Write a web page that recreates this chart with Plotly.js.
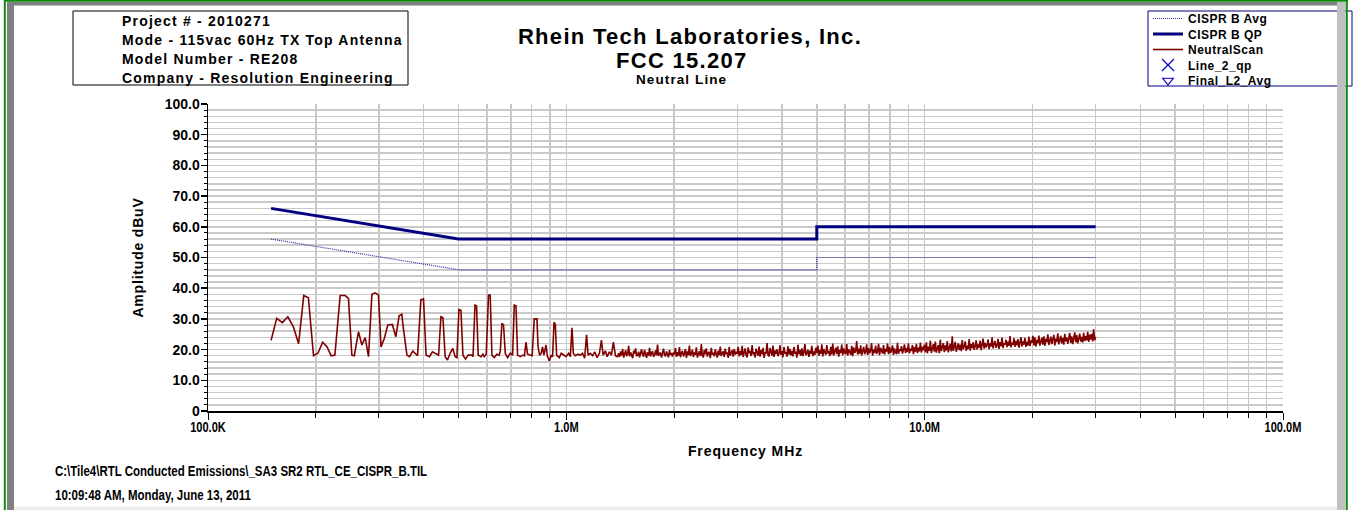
<!DOCTYPE html>
<html><head><meta charset="utf-8">
<script src="https://cdn.plot.ly/plotly-3.0.1.min.js"></script>
<style>html,body{margin:0;padding:0;background:#fff;overflow:hidden}#chart{width:1353px;height:510px}</style>
</head><body><div id="chart"></div>
<script>
// ---------- DATA ----------
const freqTickVals = [0.1, 1, 10, 100];
const freqTickText = ['100.0K', '1.0M', '10.0M', '100.0M'];
const ampTickVals = [0, 10, 20, 30, 40, 50, 60, 70, 80, 90, 100];
const ampTickText = ['0', '10.0', '20.0', '30.0', '40.0', '50.0', '60.0', '70.0', '80.0', '90.0', '100.0'];

// CISPR B limits (MHz, dBuV)
const limitFreq = [0.15, 0.5, 5, 5, 30];
const qpLimit = [66, 56, 56, 60, 60];
const avgLimit = [56, 46, 46, 50, 50];

// Neutral scan, resolved part (MHz, dBuV)
const scanLowFreq = [
0.150,0.1555,0.1613,0.167,0.173,0.179,0.185,0.1906,0.197,0.2026,
0.209,0.215,0.2206,0.226,0.2338,0.2414,0.2466,0.252,0.256,0.263,
0.2688,0.2746,0.2805,0.2867,0.2928,0.299,0.304,0.3106,0.3175,0.327,
0.3343,0.3415,0.3475,0.350,0.359,0.365,0.373,0.3786,0.3844,0.3927,
0.3994,0.406,0.415,0.423,0.4335,0.440,0.4467,0.4525,0.459,0.466,
0.474,0.482,0.4897,0.495,0.5015,0.508,0.5146,0.5233,0.5324,0.5452,
0.549,0.556,0.5616,0.5676,0.5778,0.585,0.590,0.5976,0.6066,0.613,
0.620,0.629,0.640,0.6486,0.654,0.661,0.668,0.6755,0.6855,0.6976,
0.708,0.7157,0.7236,0.731,0.7439,0.7568,0.764,0.7715,0.7796,0.793,
0.803,0.8136,0.828,0.834,0.842,0.851,0.858,0.866,0.8775,0.885,
0.8965,0.908,0.9156,0.9239,0.9317,0.9395,0.9559,0.968,0.9828,0.998,
1.0149,1.026,1.037,1.046,1.0595,1.078,1.094,1.110,1.125,1.139,
1.150,1.167,1.184,1.200,1.218,1.237,1.253,1.267,1.285,1.300,
1.319,1.336,1.353,1.371,1.389];
const scanLowAmp = [
23.0,30.2,28.8,30.7,27.5,21.9,37.6,36.9,18.0,18.8,
22.4,20.9,18.0,18.2,37.6,37.6,36.7,18.2,18.0,25.8,
21.5,23.9,17.7,38.0,38.5,37.8,20.9,23.7,28.0,28.2,
24.2,31.0,31.5,28.0,18.2,17.7,19.5,18.8,18.0,36.2,
36.5,18.2,17.7,19.3,18.5,18.2,30.7,30.4,17.7,16.6,
18.8,20.4,17.7,17.4,33.1,32.8,18.2,16.9,18.2,18.2,
17.7,34.5,34.2,18.2,17.7,18.5,17.7,18.5,37.8,37.8,
18.2,17.4,18.5,18.2,19.3,28.6,28.0,18.8,17.4,18.8,
18.2,34.5,34.3,18.2,17.7,18.2,18.0,22.4,18.5,18.2,
18.0,30.0,30.0,20.9,18.2,18.8,20.9,18.2,21.5,18.0,
16.3,18.2,17.7,28.9,28.2,18.2,17.4,18.8,18.2,17.7,
18.8,17.7,27.1,18.8,18.0,18.5,18.2,18.8,17.2,24.8,
18.2,18.8,18.0,19.3,17.4,18.8,23.1,18.2,19.6,17.7,
19.3,18.2,22.4,18.0,17.7];

// Neutral scan, dense sweep part: 1.40 MHz to 30 MHz, log-spaced sweep points
const bandStartMHz = 1.40;
const bandStopMHz = 30.0;
const scanBandAmp = [
18.8,17.6,19.4,18.1,20.2,17.4,18.9,19.8,17.9,18.5,21.2,17.8,19.1,18.3,17.2,19.6,18.7,20.4,17.9,18.2,
19.3,17.5,18.8,20.1,18.4,17.7,19.9,18.6,17.3,19.2,18.0,20.6,17.8,18.9,19.5,17.6,18.3,19.7,18.1,21.6,
17.9,18.7,19.0,17.4,18.5,20.3,18.2,17.8,19.4,18.6,17.5,19.8,18.3,18.9,17.7,19.1,
18.4,20.5,17.6,19.2,18.0,20.8,17.5,18.9,19.6,17.8,18.6,20.2,17.3,19.4,18.2,21.3,17.9,18.7,20.0,17.6,
19.1,18.3,20.7,17.4,18.8,19.5,17.9,21.8,18.1,17.5,19.9,18.5,20.4,17.7,18.9,19.3,17.2,20.6,18.4,19.0,
17.8,20.1,18.6,17.4,19.7,18.2,21.0,17.9,18.8,19.4,17.6,20.3,18.5,19.1,17.3,20.9,18.0,18.7,19.8,17.7,
20.2,18.4,19.3,
18.6,20.9,17.8,19.5,18.3,21.2,17.6,19.0,20.4,18.1,17.5,20.7,18.8,19.6,17.9,21.5,18.4,19.2,17.4,20.3,
18.9,18.0,21.0,17.7,19.8,18.5,20.6,17.3,19.1,18.7,22.1,18.2,17.8,20.5,19.3,18.0,21.3,17.6,19.7,18.6,
20.1,17.9,18.8,21.4,18.3,19.5,17.5,20.8,18.9,19.0,17.7,21.1,18.4,20.2,18.1,19.6,17.8,20.9,18.7,19.3,
17.4,21.6,18.5,19.9,18.0,20.4,17.9,19.1,21.8,18.2,18.8,20.0,17.6,19.7,18.6,21.2,17.9,19.4,18.3,20.6,
18.9,21.3,18.0,19.8,18.6,21.7,17.8,20.2,19.1,18.3,21.5,18.7,19.6,17.9,20.9,18.4,22.0,18.1,19.3,20.6,
18.5,21.1,17.7,19.9,18.8,21.6,18.2,20.4,19.0,18.6,21.8,18.0,20.1,19.4,18.3,21.2,17.9,20.7,18.9,19.5,
22.8,18.4,20.3,18.7,21.4,18.1,19.8,20.9,18.5,19.2,21.7,18.3,20.5,18.8,19.6,22.1,18.0,20.0,18.9,21.3,
18.6,19.4,21.9,18.2,20.6,19.1,18.7,21.5,18.4,20.2,19.3,22.0,18.5,20.8,18.9,19.7,21.4,18.3,20.4,19.0,
18.8,22.2,18.6,20.1,19.5,21.1,18.7,19.9,21.7,18.9,20.5,19.2,22.0,18.8,20.3,19.6,21.5,18.5,20.8,19.3,
21.9,18.9,20.6,19.4,22.3,19.0,20.9,19.8,21.6,
19.1,22.4,18.8,21.0,19.6,22.9,18.9,20.7,21.8,19.3,22.6,19.0,20.4,21.5,18.8,23.3,19.5,20.9,22.1,19.2,
21.4,19.7,22.8,19.1,20.6,21.9,19.4,24.3,19.6,21.2,22.5,19.3,20.8,22.0,19.8,21.6,19.5,23.1,20.1,21.0,
22.7,19.6,21.3,20.2,23.4,19.7,21.8,20.5,22.4,19.9,21.1,23.0,20.0,21.7,20.6,22.9,19.8,21.4,23.6,20.3,
22.2,20.7,21.5,23.3,20.1,22.0,21.0,24.0,20.4,21.9,22.8,20.6,21.3,23.5,20.2,22.4,21.1,23.9,20.5,22.1,
21.6,23.2,20.8,22.6,21.2,24.4,20.7,22.3,21.5,23.7,20.9,22.8,21.4,23.4,20.6,22.1,24.1,21.0,22.7,21.6,
23.8,20.9,22.5,21.3,24.2,21.1,23.0,22.2,24.5,
21.4,24.0,21.0,23.2,22.1,24.6,21.3,22.8,23.9,21.6,24.3,21.2,23.5,22.4,25.0,21.5,23.1,24.2,21.8,22.9,
24.8,21.4,23.6,22.5,25.3,21.7,23.3,24.5,22.0,23.8,21.6,25.1,22.7,24.0,21.9,23.5,25.4,22.2,24.3,21.8,
23.9,25.6,22.4,24.7,22.0,23.6,25.2,22.6,24.1,22.3,25.5,22.8,24.4,23.0,25.8,22.5,24.9,23.3,25.1,22.7,
26.6,23.0,24.2];

const infoLines = ['Project # - 2010271', 'Mode - 115vac 60Hz TX Top Antenna', 'Model Number - RE208', 'Company - Resolution Engineering'];
const titleLines = ['Rhein Tech Laboratories, Inc.', 'FCC 15.207'];
const subTitle = 'Neutral Line';
const footerLines = ['C:\\Tile4\\RTL Conducted Emissions\\_SA3 SR2 RTL_CE_CISPR_B.TIL', '10:09:48 AM, Monday, June 13, 2011'];
const seriesNames = ['CISPR B Avg', 'CISPR B QP', 'NeutralScan', 'Line_2_qp', 'Final_L2_Avg'];

// ---------- BUILD ----------
const n = scanBandAmp.length;
const bandFreq = scanBandAmp.map((_, i) => bandStartMHz * Math.pow(bandStopMHz / bandStartMHz, i / (n - 1)));
const scanFreq = scanLowFreq.concat(bandFreq);
const scanAmp = scanLowAmp.concat(scanBandAmp);

const minorFreq = [];
[0.1, 1, 10].forEach(d => { for (let k = 2; k <= 9; k++) minorFreq.push(+(d * k).toPrecision(3)); });
const minorAmp = [];
for (let v = 2; v < 100; v += 2) if (v % 10) minorAmp.push(v);

const W = 1353, H = 510, M = {l: 208, r: 70, t: 104, b: 99, autoexpand: false};
const PX = x => (x - M.l) / (W - M.l - M.r);
const PY = y => (H - M.b - y) / (H - M.t - M.b);
const SANS = 'Liberation Sans, Arial, sans-serif';
const sp = (t, s) => '<span style="letter-spacing:' + s + 'px">' + t + '</span>';
const GRID = '#c9c9c9';
const BOLD = (size) => ({family: SANS, size: size, weight: 'bold', color: '#000'});

const traces = [
  {name: sp(seriesNames[0], 0.5), x: limitFreq, y: avgLimit, mode: 'lines', line: {color: '#2c2c9c', width: 1.2, dash: '1px,1px'}},
  {name: sp(seriesNames[1], 0.5), x: limitFreq, y: qpLimit, mode: 'lines', line: {color: '#000080', width: 3}},
  {name: sp(seriesNames[2], 0.5), x: scanFreq, y: scanAmp, mode: 'lines', line: {color: '#800000', width: 1.6}},
  {name: sp(seriesNames[3], 0.5), x: [null], y: [null], mode: 'markers', marker: {symbol: 'x-thin-open', size: 12, color: '#0000c8', line: {width: 1.2, color: '#0000c8'}}},
  {name: sp(seriesNames[4], 0.5), x: [null], y: [null], mode: 'markers', marker: {symbol: 'triangle-down-open', size: 9, color: '#0000c8', line: {width: 1.2, color: '#0000c8'}}}
];

// one legend per row so the rows keep the reference's tight spacing
const legendRowY = [18.5, 34, 49.5, 65, 80.5];
const legends = {};
traces.forEach((t, i) => {
  const id = i === 0 ? 'legend' : 'legend' + (i + 1);
  t.legend = id;
  legends[id] = {x: PX(1148), y: PY(legendRowY[i]), xref: 'paper', yref: 'paper', xanchor: 'left', yanchor: 'middle',
    bgcolor: 'rgba(0,0,0,0)', borderwidth: 0, font: BOLD(12)};
});

const ann = [];
const infoY = [20.7, 40, 59, 78.3];
infoLines.forEach((t, i) => ann.push({text: sp(t, 1.2), x: PX(119.5), y: PY(infoY[i]), xref: 'paper', yref: 'paper', xanchor: 'left', yanchor: 'middle', align: 'left', showarrow: false, font: BOLD(14)}));
ann.push({text: sp(titleLines[1], 1.3), x: PX(682), y: PY(60.4), xref: 'paper', yref: 'paper', xanchor: 'center', yanchor: 'middle', showarrow: false, font: BOLD(22)});
ann.push({text: sp(subTitle, 1.1), x: PX(681), y: PY(79.4), xref: 'paper', yref: 'paper', xanchor: 'center', yanchor: 'middle', showarrow: false, font: BOLD(13.5)});
const footY = [471, 495];
footerLines.forEach((t, i) => ann.push({text: t, x: PX(53), y: PY(footY[i]), xref: 'paper', yref: 'paper', xanchor: 'left', yanchor: 'middle', align: 'left', showarrow: false, font: BOLD(14)}));

const rect = (x0, y0, x1, y1, fill, lc, lw) => ({type: 'rect', xref: 'paper', yref: 'paper', x0: PX(x0), x1: PX(x1), y0: PY(y0), y1: PY(y1), fillcolor: fill, line: {color: lc || 'rgba(0,0,0,0)', width: lw || 0}, layer: 'above'});
const line = (x0, y0, x1, y1, c, w) => ({type: 'line', xref: 'paper', yref: 'paper', x0: PX(x0), x1: PX(x1), y0: PY(y0), y1: PY(y1), line: {color: c, width: w}, layer: 'above'});

const shapes = [
  rect(73, 11, 408, 85, 'rgba(0,0,0,0)', '#000', 1),
  rect(1148, 11, 1352, 86, 'rgba(0,0,0,0)', '#000080', 1),
  rect(14, 506.5, 1337, 510, '#ececec'),
  rect(7, 1.7, 1337, 5.5, '#808080'),
  rect(7, 2, 14, 510, '#808080'),
  rect(1337, 2, 1345.5, 510, '#c0c0c0'),
  line(4.8, 0, 4.8, 510, '#128a12', 2),
  line(4, 0.8, 1348, 0.8, '#128a12', 2),
  line(1346.8, 0, 1346.8, 510, '#128a12', 2)
];

const layout = Object.assign({
  width: W, height: H, autosize: false, margin: M,
  paper_bgcolor: '#fff', plot_bgcolor: '#fff', showlegend: true,
  title: {text: sp(titleLines[0], 1.3), x: PX(690), xref: 'paper', xanchor: 'center', y: 1 - 36 / H, yref: 'container', yanchor: 'middle', font: BOLD(22)},
  xaxis: {type: 'log', range: [-1, 2], tickmode: 'array', tickvals: freqTickVals, ticktext: freqTickText, ticks: 'outside', ticklen: 7, tickwidth: 1, tickcolor: '#000',
    showline: true, linecolor: '#000', linewidth: 1.5, showgrid: true, gridcolor: GRID, gridwidth: 1.5, zeroline: false, tickfont: BOLD(14), ticklabelstandoff: -4,
    minor: {tickmode: 'array', tickvals: minorFreq, ticks: 'outside', ticklen: 5, tickwidth: 1, tickcolor: '#000', showgrid: true, gridcolor: GRID, gridwidth: 1.5},
    title: {text: sp('Frequency MHz', 0.9), font: BOLD(14), standoff: 12}},
  yaxis: {type: 'linear', range: [0, 100], tickmode: 'array', tickvals: ampTickVals, ticktext: ampTickText, ticks: 'outside', ticklen: 6, tickwidth: 1.5, tickcolor: '#000',
    showline: true, linecolor: '#000', linewidth: 1.5, showgrid: true, gridcolor: GRID, gridwidth: 1.5, zeroline: false, tickfont: BOLD(14), ticklabelstandoff: -2,
    minor: {tickmode: 'array', tickvals: minorAmp, ticks: 'outside', ticklen: 3, tickwidth: 1, tickcolor: '#000', showgrid: true, gridcolor: GRID, gridwidth: 1.5},
    title: {text: sp('Amplitude dBuV', 0.8), font: BOLD(14), standoff: 18}},
  annotations: ann,
  shapes: shapes
}, legends);

const narrowTexts = footerLines;
Plotly.newPlot('chart', traces, layout, {staticPlot: true, displayModeBar: false}).then(gd => {
  // condensed (narrow) rendering of the file path / date footer and frequency tick labels
  const condense = (el, f) => {
    const w = el.getComputedTextLength();
    el.setAttribute('textLength', (w * f).toFixed(1));
    el.setAttribute('lengthAdjust', 'spacingAndGlyphs');
  };
  gd.querySelectorAll('.xtick text').forEach(t => condense(t, 0.79));
  gd.querySelectorAll('.annotation-text').forEach(t => { if (narrowTexts.includes(t.textContent)) condense(t, 0.82); });
});
</script></body></html>
